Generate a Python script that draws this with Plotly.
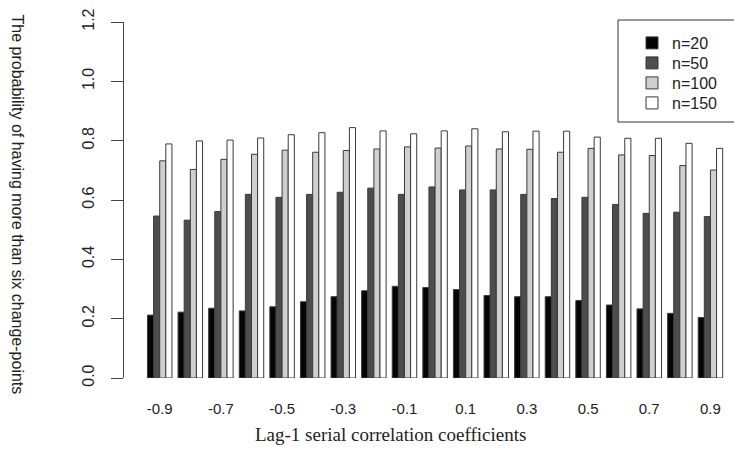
import plotly.graph_objects as go

# Lag-1 serial correlation coefficients (categories)
rho = ["-0.9", "-0.8", "-0.7", "-0.6", "-0.5", "-0.4", "-0.3", "-0.2", "-0.1", "0.0",
       "0.1", "0.2", "0.3", "0.4", "0.5", "0.6", "0.7", "0.8", "0.9"]
tick_labels = ["-0.9", "-0.7", "-0.5", "-0.3", "-0.1", "0.1", "0.3", "0.5", "0.7", "0.9"]

n20 = [0.212, 0.222, 0.235, 0.226, 0.240, 0.257, 0.274, 0.294, 0.309, 0.305,
       0.298, 0.278, 0.274, 0.274, 0.261, 0.246, 0.233, 0.218, 0.204]
n50 = [0.546, 0.532, 0.561, 0.619, 0.609, 0.619, 0.626, 0.640, 0.619, 0.644,
       0.634, 0.634, 0.619, 0.605, 0.609, 0.585, 0.555, 0.559, 0.544]
n100 = [0.732, 0.703, 0.737, 0.754, 0.768, 0.761, 0.767, 0.772, 0.779, 0.775,
        0.782, 0.772, 0.771, 0.761, 0.774, 0.752, 0.750, 0.716, 0.701]
n150 = [0.789, 0.799, 0.802, 0.809, 0.820, 0.827, 0.844, 0.833, 0.823, 0.833,
        0.840, 0.830, 0.832, 0.832, 0.812, 0.808, 0.808, 0.791, 0.774]

series = [("n=20", n20, "#050505"), ("n=50", n50, "#4d4d4d"),
          ("n=100", n100, "#cfcfcf"), ("n=150", n150, "#ffffff")]

L, T, W, H = 124, 22, 610, 356
legend_ids = ["legend", "legend2", "legend3", "legend4"]
legend_tops = [26, 46, 66, 86]

fig = go.Figure()
for (name, vals, col), lid in zip(series, legend_ids):
    fig.add_trace(go.Bar(x=rho, y=vals, name=name, legend=lid,
                         marker=dict(color=col, line=dict(color="#3a3a3a", width=1))))

legend_style = dict(xanchor="left", yanchor="top", borderwidth=0,
                    bgcolor="rgba(0,0,0,0)", font=dict(size=16, color="#222"),
                    itemwidth=30)
legends = {lid: dict(x=(632 - L) / W, y=1 - (top - T) / H, **legend_style)
           for lid, top in zip(legend_ids, legend_tops)}

fig.update_layout(
    width=734, height=463,
    margin=dict(l=L, r=0, t=T, b=463 - T - H),
    paper_bgcolor="white", plot_bgcolor="white",
    barmode="group", bargap=0.2, bargroupgap=0,
    font=dict(family="Liberation Sans, Arial, sans-serif", color="#222"),
    showlegend=True,
    **legends,
    xaxis=dict(type="category", range=[-1.167, 18.77],
               tickmode="array", tickvals=tick_labels, ticktext=tick_labels,
               showline=False, showgrid=False, zeroline=False, ticks="",
               ticklabelstandoff=20, tickfont=dict(size=15, color="#222")),
    yaxis=dict(range=[0, 1.2], tickmode="array",
               tickvals=[0, 0.2, 0.4, 0.6, 0.8, 1.0, 1.2],
               ticktext=["0.0", "0.2", "0.4", "0.6", "0.8", "1.0", "1.2"],
               showline=True, linecolor="#444", linewidth=1,
               ticks="outside", ticklen=12, tickcolor="#444",
               showgrid=False, zeroline=False, tickangle=-90,
               ticklabelstandoff=11, tickfont=dict(size=16, color="#222")),
    shapes=[dict(type="rect", xref="paper", yref="paper",
                 x0=(618 - L) / W, x1=1.03, y0=(T + H - 122) / H, y1=(T + H - 20) / H,
                 line=dict(color="#333", width=1), fillcolor="rgba(0,0,0,0)", layer="above")],
    annotations=[
        dict(text="The probability of having more than six change-points",
             xref="paper", yref="paper", x=0, y=(T + H - 204) / H, xshift=-117,
             textangle=90, showarrow=False,
             font=dict(size=16, color="#222", family="Liberation Sans, Arial, sans-serif")),
        dict(text="Lag-1 serial correlation coefficients",
             xref="paper", yref="paper", x=(390 - L) / W, y=0, yshift=-(434 - T - H),
             yanchor="middle", showarrow=False,
             font=dict(size=19, color="#222", family="Liberation Serif, serif")),
    ],
)

fig.write_html("out.html", post_script="document.body.style.margin='0';",
               config={"displayModeBar": False})
